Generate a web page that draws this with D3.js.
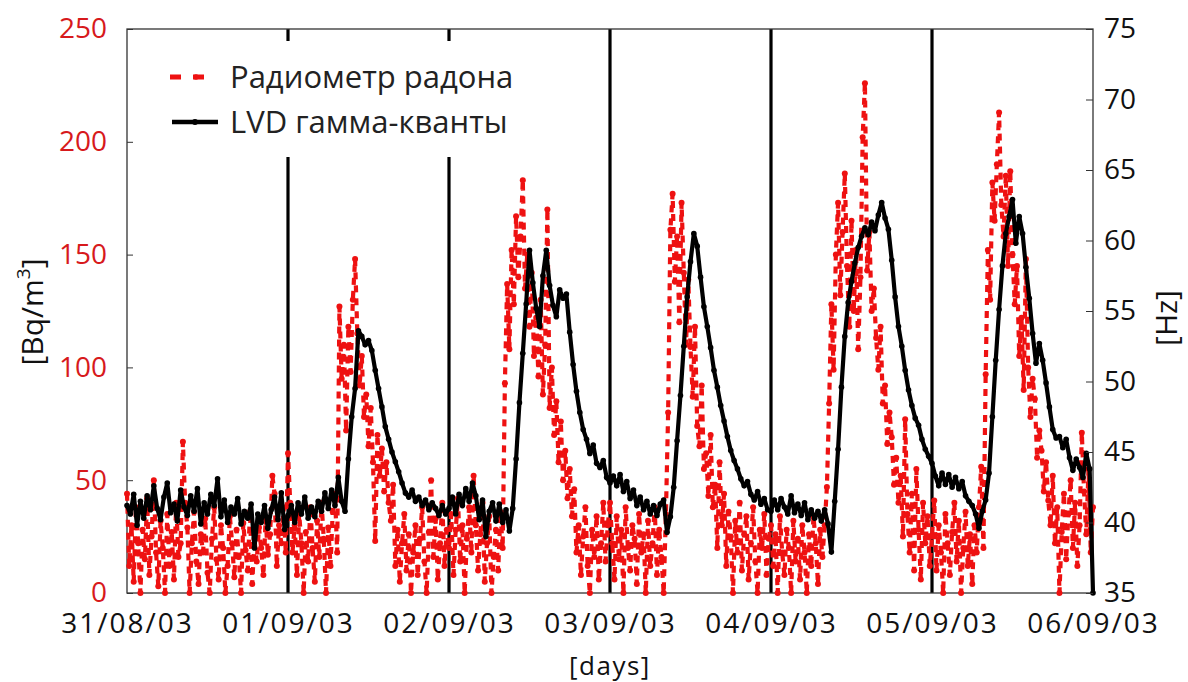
<!DOCTYPE html>
<html><head><meta charset="utf-8">
<script src="https://cdn.jsdelivr.net/npm/d3@7/dist/d3.min.js"></script>
<style>
body{margin:0;background:#fff}
text{font-family:"Open Sans",sans-serif}
</style></head>
<body><svg id="c" width="1188" height="682"></svg>
<script>
// ---- data ----
const dayLabels = ["31/08/03","01/09/03","02/09/03","03/09/03","04/09/03","05/09/03","06/09/03"];
const radonTicks = [0,50,100,150,200,250];
const hzTicks = [35,40,45,50,55,60,65,70,75];
const seriesNames = ["Радиометр радона","LVD гамма-кванты"];
const radonPerDay = 72;   // samples per day (20 min)
const gammaPerDay = 48;   // samples per day (30 min)

// Radon, Bq/m3
const radon = [
 // 31/08
 44,12,30,5,38,22,0,28,15,42,8,25, 50,18,3,32,20,0,35,12,27,6,40,16,
 22,67,40,29,0,22,36,14,4,26,18,33, 9,0,24,38,15,6,30,20,0,12,34,22,
 7,28,16,0,31,19,10,36,4,24,14,29, 20,8,33,17,26,52,44,12,30,22,38,18,
 // 01/09
 62,40,18,30,8,35,22,0,27,14,38,20, 5,32,16,40,24,0,29,12,36,44,18,127,
 95,110,72,118,98,130,148,115,92,105,78,88, 65,82,58,23,70,52,64,45,58,40,32,48,
 12,28,5,22,35,10,26,0,18,30,8,24, 38,14,0,27,50,16,33,6,22,40,12,28,
 // 02/09
 20,35,8,28,42,14,30,0,24,38,18,52, 30,10,26,40,5,22,34,0,16,28,10,36,
 20,93,137,108,152,128,167,140,158,183,135,150, 118,142,105,122,96,130,88,110,170,82,100,70,
 85,58,76,50,63,42,55,34,46,18,30,8, 25,38,12,0,28,16,34,6,22,40,14,30,
 // 03/09
 40,22,6,34,15,28,0,38,20,10,30,24, 4,35,18,26,0,32,12,22,38,8,28,16,
 0,35,80,161,177,138,158,120,173,142,110,139, 109,87,118,74,65,92,55,62,43,70,38,48,
 20,58,30,44,12,36,25,0,32,18,40,10, 26,34,6,22,38,14,0,28,20,35,8,24,
 // 04/09
 30,12,26,0,34,18,8,28,20,0,32,14, 24,6,30,18,0,26,12,34,22,4,28,16,
 30,47,84,128,99,150,173,132,160,186,145,118, 165,125,152,108,140,202,226,143,160,125,135,113,
 99,118,84,92,66,80,69,48,60,40,52,25, 77,35,18,44,10,55,28,6,40,22,34,12,
 // 05/09
 25,41,10,30,18,0,35,22,8,27,40,14, 32,0,20,36,12,26,4,30,18,38,56,20,
 97,152,130,182,165,190,213,172,158,185,145,187, 150,128,145,105,122,90,148,100,78,95,86,60,
 72,63,45,58,41,30,52,22,38,0,27,44, 15,35,50,20,40,12,30,71,45,26,55,18,
 38
];

// LVD gamma, Hz
const gamma = [
 // 31/08
 41.2,40.6,42.0,39.8,41.5,40.3,41.9,40.9,42.6,41.0,40.2,41.8,
 42.8,40.7,41.3,40.1,42.3,41.1,40.5,41.9,40.8,42.4,39.9,41.4,
 40.6,42.0,41.2,43.1,40.4,41.6,40.0,41.1,40.6,41.7,39.9,40.8,
 40.3,41.3,38.2,40.6,40.0,41.2,39.6,40.9,41.8,40.2,42.1,39.5,
 // 01/09
 40.5,41.2,40.0,41.4,40.6,41.8,40.3,41.1,40.4,41.5,40.8,42.1,
 41.0,42.3,41.2,43.2,41.5,40.8,44.5,47.5,49.5,53.6,53.2,52.6,
 52.9,52.2,50.8,49.5,48.2,46.8,45.9,45.0,44.3,43.6,42.8,42.1,
 41.8,42.3,41.5,41.8,41.2,41.6,40.9,41.4,41.0,40.5,41.2,40.6,
 // 02/09
 41.0,41.8,40.6,42.0,41.2,42.4,41.5,42.8,41.9,40.2,41.6,39.0,
 40.8,41.4,40.1,41.3,40.0,40.9,39.4,41.0,44.5,48.5,52.0,55.5,
 59.3,57.0,55.2,53.9,57.5,59.3,56.8,55.4,54.6,56.5,55.9,56.2,
 53.5,51.2,49.3,47.8,46.6,45.9,44.9,45.5,44.2,43.9,44.4,43.2,
 // 03/09
 42.8,43.3,42.6,43.4,42.2,42.9,41.7,42.3,41.2,41.8,40.9,41.5,
 40.6,41.2,40.5,41.3,41.6,39.3,40.4,42.5,45.8,49.0,52.5,56.0,
 58.5,60.5,59.6,57.4,55.3,53.9,52.4,50.8,49.6,48.3,47.2,46.1,
 45.1,44.4,43.8,43.1,42.6,42.9,42.0,41.6,42.2,41.3,41.7,40.9,
 // 04/09
 40.8,41.6,40.9,41.7,41.1,40.6,41.9,40.7,41.3,40.5,41.4,40.2,
 40.9,40.3,40.8,40.1,40.9,39.9,37.9,41.5,45.2,49.6,53.2,55.6,
 57.1,58.4,59.5,60.3,60.9,60.4,61.3,60.7,61.8,62.7,61.6,60.8,
 58.6,56.0,53.9,52.5,50.8,49.4,48.3,47.4,46.9,45.9,45.2,44.7,
 // 05/09
 44.2,43.3,42.6,43.5,42.7,43.4,42.5,43.2,42.4,42.9,41.9,41.5,
 41.2,40.6,39.6,40.8,41.6,43.5,47.5,51.5,55.1,58.2,60.5,61.7,
 62.9,59.8,61.7,60.5,58.1,55.9,53.4,51.3,52.7,51.5,49.9,48.2,
 46.6,46.0,46.1,45.3,45.9,44.6,43.7,44.5,43.9,43.2,44.9,43.8,
 35.0
];

// ---- chart ----
const svg = d3.select("#c");
const M = {l:127, r:1093, t:29, b:593};
const RED = "#ee1111", LABRED = "#d7191c";

const x = d3.scaleLinear().domain([0, dayLabels.length-1]).range([M.l, M.r]);
const yL = d3.scaleLinear().domain([0,250]).range([M.b, M.t]);
const yR = d3.scaleLinear().domain([35,75]).range([M.b, M.t]);

const radonPts = radon.map((v,i)=>({t:i/radonPerDay, v}));
const gammaPts = gamma.map((v,i)=>({t:i/gammaPerDay, v}));

// day separator lines
svg.append("g").selectAll("line").data(d3.range(1, dayLabels.length-1)).join("line")
  .attr("x1", d=>x(d)).attr("x2", d=>x(d)).attr("y1", M.t).attr("y2", M.b)
  .attr("stroke","#000").attr("stroke-width",3.2);

// legend background (breaks separator lines)
svg.append("rect").attr("x",155).attr("y",41).attr("width",370).attr("height",116).attr("fill","#fff");

// frame
svg.append("rect").attr("x",M.l).attr("y",M.t).attr("width",M.r-M.l).attr("height",M.b-M.t)
  .attr("fill","none").attr("stroke","#333").attr("stroke-width",1.3);

// radon series
const lineL = d3.line().x(d=>x(d.t)).y(d=>yL(d.v));
svg.append("path").datum(radonPts).attr("d",lineL).attr("fill","none")
  .attr("stroke",RED).attr("stroke-width",4.2).attr("stroke-dasharray","7,6");
svg.append("g").selectAll("circle").data(radonPts).join("circle")
  .attr("cx",d=>x(d.t)).attr("cy",d=>yL(d.v)).attr("r",3).attr("fill",RED);

// gamma series
const lineR = d3.line().x(d=>x(d.t)).y(d=>yR(d.v));
svg.append("path").datum(gammaPts).attr("d",lineR).attr("fill","none")
  .attr("stroke","#000").attr("stroke-width",4.2).attr("stroke-linejoin","round");
svg.append("g").selectAll("circle").data(gammaPts).join("circle")
  .attr("cx",d=>x(d.t)).attr("cy",d=>yR(d.v)).attr("r",2.8).attr("fill","#000");

// axes
const axL = svg.append("g").attr("transform",`translate(${M.l},0)`)
  .call(d3.axisRight(yL).tickValues(radonTicks).tickSize(6).tickFormat(d3.format("d")));
axL.select(".domain").remove();
axL.selectAll("line").attr("stroke","#333");
axL.selectAll("text").attr("x",-20).attr("text-anchor","end").attr("fill",LABRED)
  .attr("font-size",28).attr("font-family","Open Sans");

const axR = svg.append("g").attr("transform",`translate(${M.r},0)`)
  .call(d3.axisLeft(yR).tickValues(hzTicks).tickSize(7).tickFormat(d3.format("d")));
axR.select(".domain").remove();
axR.selectAll("line").attr("stroke","#333");
axR.selectAll("text").attr("x",11).attr("text-anchor","start").attr("fill","#111")
  .attr("font-size",28).attr("font-family","Open Sans");

const axB = svg.append("g").attr("transform",`translate(0,${M.b})`)
  .call(d3.axisBottom(x).tickValues(d3.range(dayLabels.length)).tickSize(0).tickFormat(i=>dayLabels[i]));
axB.select(".domain").remove();
axB.selectAll("text").attr("y",20).attr("fill","#111").attr("font-size",28)
  .attr("letter-spacing","2px").attr("font-family","Open Sans");

// axis titles
svg.append("text").attr("transform","translate(43,312) rotate(-90)").attr("text-anchor","middle")
  .attr("font-size",30).attr("fill","#111").html('[Bq/m<tspan baseline-shift="super" font-size="19">3</tspan>]');
svg.append("text").attr("transform","translate(1177,318) rotate(-90)").attr("text-anchor","middle")
  .attr("font-size",30).attr("fill","#111").text("[Hz]");
svg.append("text").attr("x",610).attr("y",675).attr("text-anchor","middle")
  .attr("font-size",26).attr("fill","#111").attr("letter-spacing","1.5px").text("[days]");

// legend
const lg = svg.append("g");
lg.append("line").attr("x1",170).attr("x2",213).attr("y1",77).attr("y2",77)
  .attr("stroke",RED).attr("stroke-width",5).attr("stroke-dasharray","11,12");
lg.append("circle").attr("cx",196).attr("cy",77).attr("r",2.8).attr("fill",RED);
lg.append("line").attr("x1",172).attr("x2",218).attr("y1",122).attr("y2",122)
  .attr("stroke","#000").attr("stroke-width",4.5);
lg.append("circle").attr("cx",195).attr("cy",122).attr("r",3).attr("fill","#000");
lg.selectAll("text.lg").data(seriesNames).join("text").attr("class","lg")
  .attr("x",230).attr("y",(d,i)=>88+i*45).attr("font-size",31).attr("fill","#222").text(d=>d);
</script></body></html>
